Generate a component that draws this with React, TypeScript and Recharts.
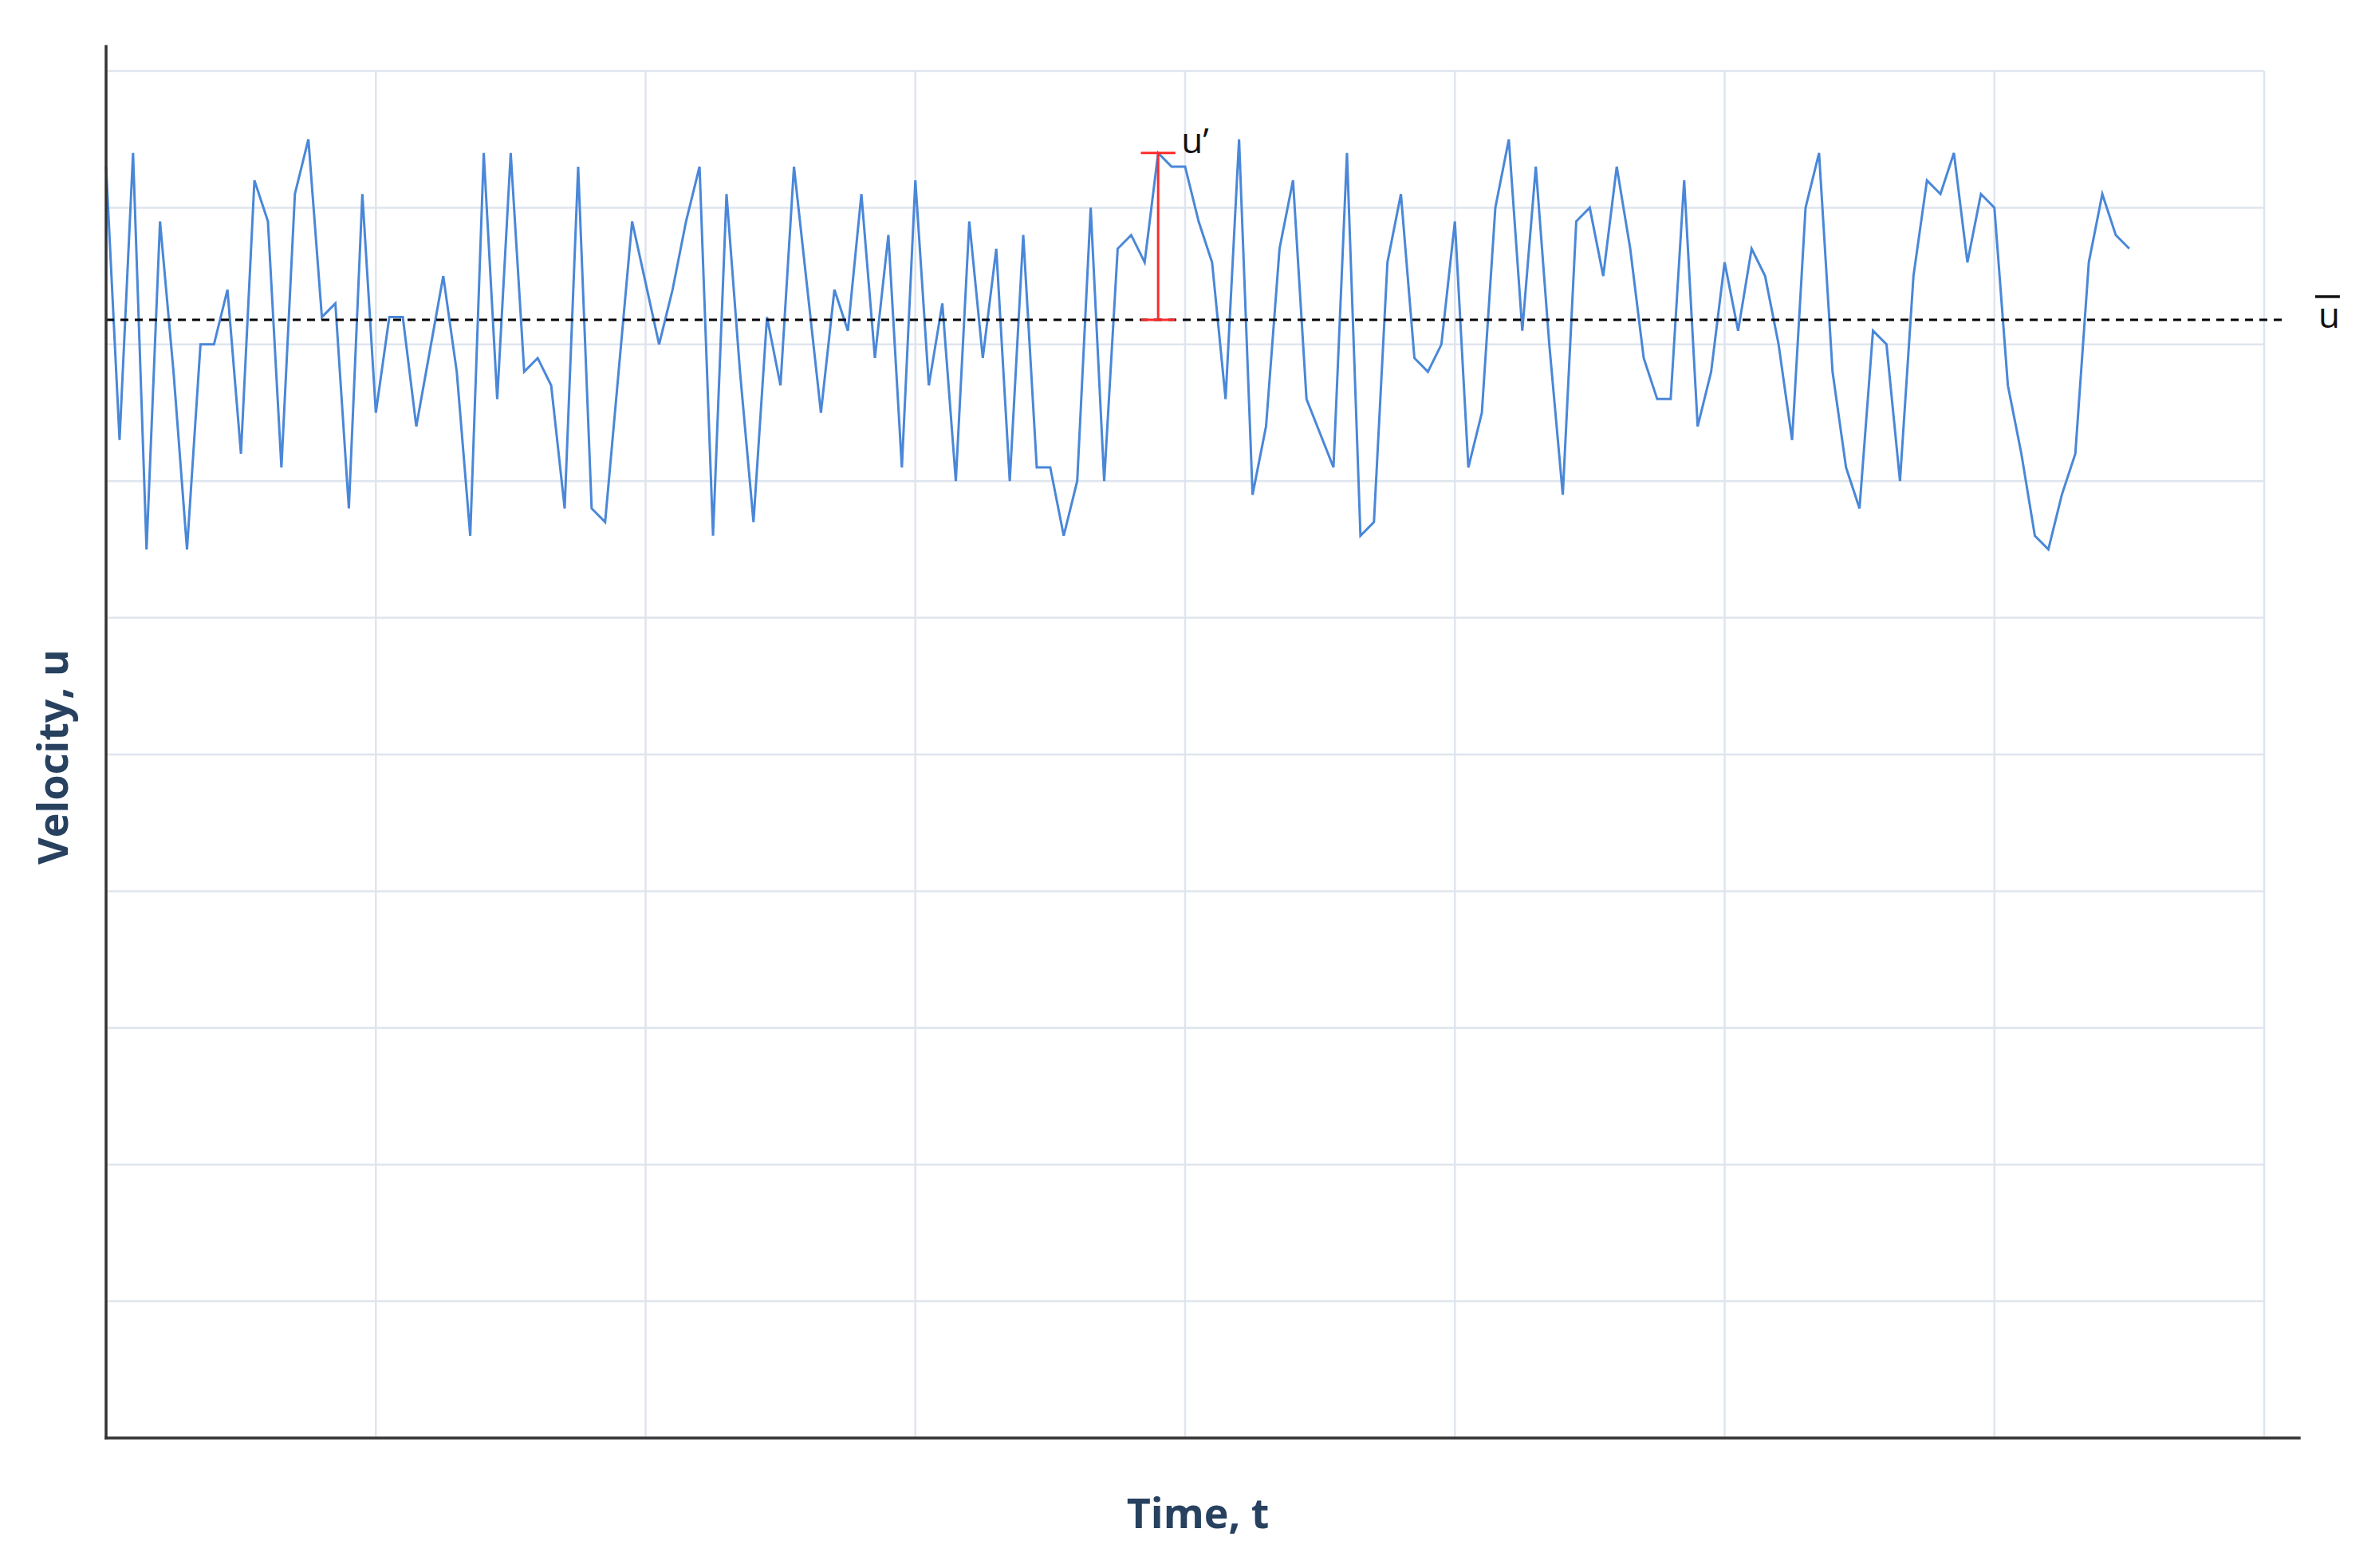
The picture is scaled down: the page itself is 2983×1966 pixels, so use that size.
import { ComposedChart, Line, XAxis, YAxis, CartesianGrid, ReferenceLine } from "recharts";

// velocity samples, one per time step
const velocity = [
  93, 73, 94, 65, 89, 78, 65, 80, 80, 84,
  72, 92, 89, 71, 91, 95, 82, 83, 68, 91,
  75, 82, 82, 74, 79.5, 85, 78, 66, 94, 76,
  94, 78, 79, 77, 68, 93, 68, 67, 78, 89,
  84.5, 80, 84, 89, 93, 66, 91, 78, 67, 82,
  77, 93, 84, 75, 84, 81, 91, 79, 88, 71,
  92, 77, 83, 70, 89, 79, 87, 70, 88, 71,
  71, 66, 70, 90, 70, 87, 88, 86, 94, 93,
  93, 89, 86, 76, 95, 69, 74, 87, 92, 76,
  73.5, 71, 94, 66, 67, 86, 91, 79, 78, 80,
  89, 71, 75, 90, 95, 81, 93, 80, 69, 89,
  90, 85, 93, 87, 79, 76, 76, 92, 74, 78,
  86, 81, 87, 85, 80, 73, 90, 94, 78, 71,
  68, 81, 80, 70, 85, 92, 91, 94, 86, 91,
  90, 77, 72, 66, 65, 69, 72, 86, 91, 88,
  87,
];
const time = velocity.map((_, i) => i);

const xTicks = [0, 20, 40, 60, 80, 100, 120, 140, 160];
const yTicks = [0, 10, 20, 30, 40, 50, 60, 70, 80, 90, 100];

const meanVelocity = 81.8;
const fluctuationTime = 78;
const fluctuationPeak = 94;

// axis lines run a little past the grid
const xAxisEnd = 162.6;
const yAxisEnd = 101.8;
const meanLineEnd = 161.65;
const capHalf = 1.28;

const data = time.map((t, i) => ({ t, u: velocity[i] }));

const titleStyle = {
  fill: "#27415f",
  fontSize: 52,
  fontWeight: 700,
  fontFamily: "'Open Sans', sans-serif",
};

const symbolStyle = {
  fill: "#111",
  fontSize: 44,
  fontFamily: "'Open Sans', sans-serif",
};

// no tick text on this chart, only grid lines
const NoTick = () => <g />;

const TimeLabel = ({ viewBox }: any) => (
  <text x={viewBox.x + viewBox.width / 2 + 16} y={viewBox.y + viewBox.height + 112} textAnchor="middle" {...titleStyle}>
    Time, t
  </text>
);

const VelocityLabel = ({ viewBox }: any) => {
  const x = viewBox.x - 47;
  const y = viewBox.y + viewBox.height / 2 + 3;
  return (
    <text x={x} y={y} transform={`rotate(-90 ${x} ${y})`} textAnchor="middle" {...titleStyle}>
      Velocity, u
    </text>
  );
};

// u with a bar over it, for the mean
const MeanLabel = ({ viewBox }: any) => {
  const x = viewBox.x + viewBox.width + 40;
  const y = viewBox.y + 10;
  return (
    <g>
      <line x1={x - 4} x2={x + 27} y1={y - 39} y2={y - 39} stroke="#111" strokeWidth={3.5} />
      <text x={x} y={y} {...symbolStyle}>
        u
      </text>
    </g>
  );
};

const PrimeLabel = ({ viewBox }: any) => (
  <text x={viewBox.x + 29} y={viewBox.y} {...symbolStyle}>
    u’
  </text>
);

export default function App() {
  return (
    <div style={{ position: "absolute", left: 0, top: 0, background: "#fff" }}>
      <ComposedChart
        width={2983}
        height={1966}
        data={data}
        margin={{ top: 89, right: 144, bottom: 162, left: 132 }}
      >
        <CartesianGrid stroke="#dfe5ee" strokeWidth={2.5} />
        <XAxis
          type="number"
          dataKey="t"
          domain={[0, 160]}
          ticks={xTicks}
          tick={NoTick}
          tickLine={false}
          axisLine={false}
          height={1}
          label={<TimeLabel />}
        />
        <YAxis
          type="number"
          domain={[0, 100]}
          ticks={yTicks}
          tick={NoTick}
          tickLine={false}
          axisLine={false}
          width={1}
          label={<VelocityLabel />}
        />
        <Line
          type="linear"
          dataKey="u"
          stroke="#4a87d8"
          strokeWidth={3}
          dot={false}
          activeDot={false}
          isAnimationActive={false}
        />
        <ReferenceLine
          segment={[{ x: 0, y: meanVelocity }, { x: meanLineEnd, y: meanVelocity }]}
          stroke="#000"
          strokeWidth={3}
          strokeDasharray="10 8"
          ifOverflow="visible"
          label={<MeanLabel />}
        />
        {/* u' fluctuation marker */}
        <ReferenceLine
          segment={[{ x: fluctuationTime, y: meanVelocity }, { x: fluctuationTime, y: fluctuationPeak }]}
          stroke="#ff2a2a"
          strokeWidth={3}
          ifOverflow="visible"
          label={<PrimeLabel />}
        />
        <ReferenceLine
          segment={[{ x: fluctuationTime - capHalf, y: fluctuationPeak }, { x: fluctuationTime + capHalf, y: fluctuationPeak }]}
          stroke="#ff2a2a"
          strokeWidth={3}
          ifOverflow="visible"
        />
        <ReferenceLine
          segment={[{ x: fluctuationTime - capHalf, y: meanVelocity }, { x: fluctuationTime + capHalf, y: meanVelocity }]}
          stroke="#ff2a2a"
          strokeWidth={3}
          ifOverflow="visible"
        />
        {/* axis lines */}
        <ReferenceLine
          segment={[{ x: 0, y: 0 }, { x: xAxisEnd, y: 0 }]}
          stroke="#333"
          strokeWidth={3.5}
          strokeLinecap="square"
          ifOverflow="visible"
        />
        <ReferenceLine
          segment={[{ x: 0, y: 0 }, { x: 0, y: yAxisEnd }]}
          stroke="#333"
          strokeWidth={3.5}
          strokeLinecap="square"
          ifOverflow="visible"
        />
      </ComposedChart>
    </div>
  );
}
